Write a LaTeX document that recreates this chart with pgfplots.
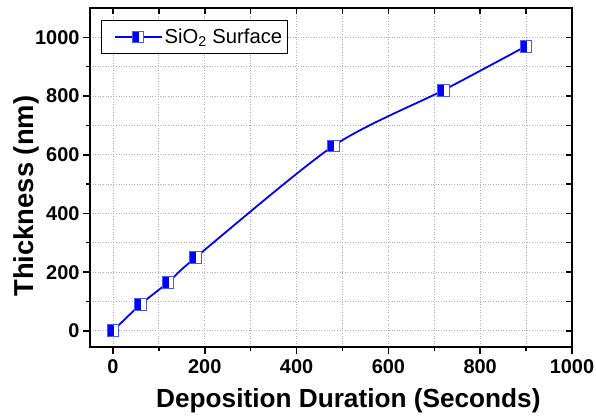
\documentclass[border=0pt]{standalone}
\usepackage{pgfplots}
\pgfplotsset{compat=1.18}
\usepackage{fontspec}
\setmainfont{Liberation Sans}
\definecolor{mblue}{RGB}{0,0,255}
\definecolor{eblue}{RGB}{70,90,255}
\pgfdeclareplotmark{halfsq}{%
  \pgfsetfillcolor{white}%
  \pgfpathrectangle{\pgfqpoint{-\pgfplotmarksize}{-\pgfplotmarksize}}{\pgfqpoint{2\pgfplotmarksize}{2\pgfplotmarksize}}%
  \pgfusepath{fill}%
  \pgfsetfillcolor{mblue}%
  \pgfpathrectangle{\pgfqpoint{-\pgfplotmarksize}{-\pgfplotmarksize}}{\pgfqpoint{1.15\pgfplotmarksize}{2\pgfplotmarksize}}%
  \pgfusepath{fill}%
  \pgfsetstrokecolor{eblue}%
  \pgfsetlinewidth{1bp}%
  \pgfpathrectangle{\pgfqpoint{-\pgfplotmarksize}{-\pgfplotmarksize}}{\pgfqpoint{2\pgfplotmarksize}{2\pgfplotmarksize}}%
  \pgfusepath{stroke}%
}
\pgfplotsset{common/.style={
  scale only axis, width=482bp, height=339bp,
  at={(0,0)}, anchor=south west,
  xmin=-50, xmax=1000, ymin=-55, ymax=1100,
  xtick={0,200,...,1000}, ytick={0,200,...,1000},
  minor x tick num=1, minor y tick num=1,
  axis line style={line width=1.6bp},
  major tick style={line width=1.6bp, black},
  minor tick style={line width=1.3bp, black},
}}
\begin{document}
\begin{tikzpicture}
\path[use as bounding box] (-90bp,-70bp) rectangle (506bp,347bp);
\begin{axis}[common,
  major tick length=7bp, minor tick length=4bp,
  tick align=outside, xtick pos=bottom, ytick pos=left,
  grid=both,
  major grid style={gray!60, line width=0.8bp, dash pattern=on 1bp off 1.6bp},
  minor grid style={gray!60, line width=0.8bp, dash pattern=on 1bp off 1.6bp},
  /pgf/number format/assume math mode=true,
  /pgf/number format/1000 sep={},
  tick label style={font=\fontsize{20}{20}\selectfont\bfseries},
  xticklabel style={yshift=-2bp},
  xlabel={Deposition Duration (Seconds)},
  ylabel={Thickness (nm)},
  xlabel style={font=\fontsize{26.3}{26.3}\selectfont\bfseries,
    at={(axis description cs:0.536,-0.177)}, anchor=base},
  ylabel style={font=\fontsize{27.5}{27.5}\selectfont\bfseries,
    at={(axis description cs:-0.118,0.445)}, anchor=base},
  legend style={at={(axis description cs:0.0235,0.9646)}, anchor=north west,
    draw=black, line width=0.8bp, font=\fontsize{20.3}{20.3}\selectfont,
    inner xsep=3bp, inner ysep=6.5bp},
  legend cell align=left,
  legend image code/.code={%
    \path[draw=none, fill=none, use as bounding box] (-10bp,-5bp) rectangle (48bp,5bp);
    \draw[mblue, line width=1.8bp] (0bp,0bp) -- (47bp,0bp);
    \draw[mblue, mark=halfsq, mark size=5.75bp] plot coordinates {(23.5bp,0bp)};
  },
]
\addplot[mblue, line width=1.8bp, smooth, tension=0.45, mark=halfsq, mark size=5.9bp, mark options={solid}]
coordinates {(0,0) (60,90) (120,165) (180,250) (480,630) (720,820) (900,970)};
\addlegendentry{SiO\textsubscript{2} Surface}
\end{axis}
\begin{axis}[common,
  major tick length=6bp, minor tick length=6bp,
  tick align=inside, xtick pos=top, ytick pos=right,
  xticklabels={}, yticklabels={},
]
\end{axis}
\end{tikzpicture}
\end{document}
